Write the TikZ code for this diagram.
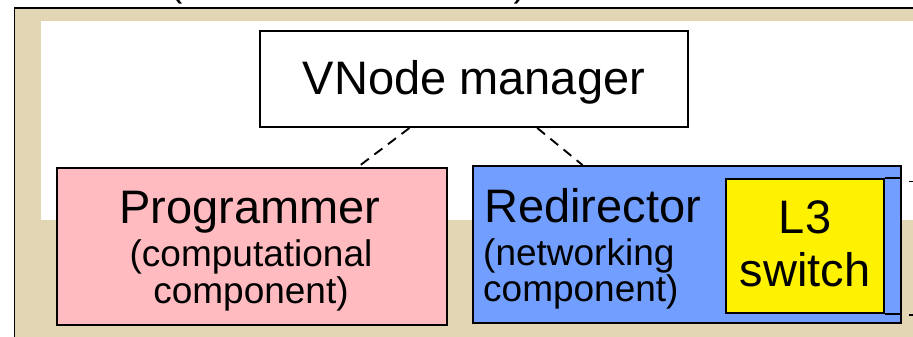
\documentclass[tikz,border=0pt]{standalone}
\usepackage{fontspec}
\setmainfont{Liberation Sans}
\usepackage{tikz}
\usetikzlibrary{positioning,calc}

\definecolor{frametan}{RGB}{227,214,180}
\definecolor{progpink}{RGB}{255,187,192}
\definecolor{redirblue}{RGB}{114,159,255}

\begin{document}
\begin{tikzpicture}[x=1pt, y=-1pt,
    box/.style={draw, line width=1.9pt, inner sep=0pt},
    big/.style={font=\fontsize{47}{52}\selectfont, anchor=base, inner sep=0pt},
    small/.style={font=\fontsize{37}{36}\selectfont, anchor=base, inner sep=0pt},
    link/.style={line width=1.9pt, dash pattern=on 10pt off 7pt},
    wire/.style={line width=1.9pt}]
  \useasboundingbox (0,0) rectangle (913,337);
  \clip (0,0) rectangle (913,337);

  % tan frame with the white panel on it
  \draw[fill=frametan, line width=1.6pt] (14.5,8) rectangle (950,360);
  \fill[white] (41,21) rectangle (950,220);
  \node[small] (caption) at (348,-3) {(\hspace{331pt})};

  % manager on top
  \node[box, fill=white, minimum width=428pt, minimum height=96pt] (vnode) at (474,79) {};
  \node[big] (vnodetext) at (474,95) {VNode manager};

  % the two components
  \node[box, fill=progpink, minimum width=390pt, minimum height=157pt] (prog) at (252,246.5) {};
  \node[big] (progtitle) at (250,223) {Programmer};
  \node[small] (progsub) at (251,266) {(computational};
  \node[small] (progsubb) at (251,303) {component)};

  \node[box, fill=redirblue, minimum width=428pt, minimum height=157pt] (redir) at (687,244.5) {};
  \node[big, anchor=base west] (redirtitle) at (484,222) {Redirector};
  \node[small, anchor=base west] (redirsub) at (483,265) {(networking};
  \node[small, anchor=base west] (redirsubb) at (483,301) {component)};

  \node[box, fill=yellow, minimum width=158pt, minimum height=134pt] (switch) at (805,246) {};
  \node[big] (switchtop) at (805,233) {L3};
  \node[big] (switchbot) at (805,286) {switch};

  % dashed links from the manager
  \draw[link] ($(vnode.south west)!0.35!(vnode.south east)$) -- ($(prog.north west)!0.77!(prog.north east)$);
  \draw[link] ($(vnode.south west)!0.647!(vnode.south east)$) -- ($(redir.north west)!0.257!(redir.north east)$);

  % switch ports going out to the right
  \draw[wire] (switch.north east) -- (switch.north east -| redir.east);
  \draw[wire] (switch.south east) -- (switch.south east -| redir.east);
  \coordinate (uplink) at (909,181.5);
  \coordinate (downlink) at (909,315);
  \draw[wire] (uplink) -- ++(10,0);
  \draw[wire] (downlink) -- ++(10,0);
\end{tikzpicture}
\end{document}
